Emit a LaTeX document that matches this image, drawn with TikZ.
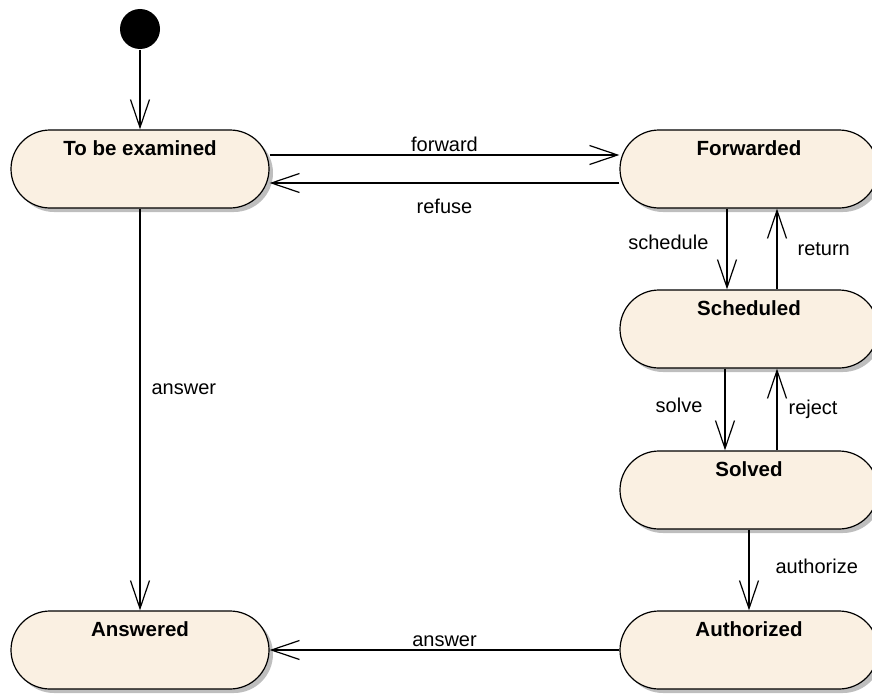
\documentclass[tikz,border=0pt]{standalone}
\usepackage{fontspec}
\setmainfont{Liberation Sans}
\usetikzlibrary{arrows.meta,shadows,positioning}
\definecolor{statefill}{RGB}{250,240,226}
\definecolor{shadowgray}{RGB}{190,190,190}

\begin{document}
\begin{tikzpicture}[x=1pt, y=-1pt, line width=1.2pt,
	state/.style={draw, fill=statefill, rounded corners=39pt, inner sep=0pt,
		minimum width=258pt, minimum height=78pt, text height=25pt, text depth=53pt,
		font=\fontsize{20.5}{20.5}\selectfont\bfseries,
		drop shadow={shadow xshift=4pt, shadow yshift=-4pt, fill=shadowgray, opacity=1}},
	trans/.style={-{Straight Barb[length=28pt, width=19pt]}},
	lbl/.style={font=\fontsize{20}{20}\selectfont, inner sep=2pt}]
\useasboundingbox (0,0) rectangle (872,693);

	%% Zustaende
	\node[circle, fill=black, minimum size=40pt, inner sep=0pt] (init) at (140,29) {};
	\node[state] (exam) at (140,169) {To be examined};
	\node[state] (fwd) at (749,169) {Forwarded};
	\node[state] (sched) at (749,329) {Scheduled};
	\node[state] (solved) at (749,490) {Solved};
	\node[state] (auth) at (749,650) {Authorized};
	\node[state] (ans) at (140,650) {Answered};
	%%%%%%%%%%%%%%%%

	%% Uebergaenge
	\draw[trans] (init) -- (exam);
	\draw[trans] ([yshift=14pt]exam.east) -- ([yshift=14pt]fwd.west) node[lbl, midway, above=1pt] {forward};
	\draw[trans] ([yshift=-14pt]fwd.west) -- ([yshift=-14pt]exam.east) node[lbl, midway, below=13pt] {refuse};
	\draw[trans] ([xshift=-22pt]fwd.south) -- ([xshift=-22pt]sched.north) node[lbl, pos=0.42, left=16pt] {schedule};
	\draw[trans] ([xshift=28pt]sched.north) -- ([xshift=28pt]fwd.south) node[lbl, midway, right=18pt] {return};
	\draw[trans] ([xshift=-24pt]sched.south) -- ([xshift=-24pt]solved.north) node[lbl, pos=0.45, left=20pt] {solve};
	\draw[trans] ([xshift=28pt]solved.north) -- ([xshift=28pt]sched.south) node[lbl, midway, right=9pt] {reject};
	\draw[trans] (solved) -- (auth) node[lbl, pos=0.45, right=24pt] {authorize};
	\draw[trans] (exam) -- (ans) node[lbl, pos=0.45, right=9pt] {answer};
	\draw[trans] (auth) -- (ans) node[lbl, midway, above=1pt] {answer};
\end{tikzpicture}
\end{document}
